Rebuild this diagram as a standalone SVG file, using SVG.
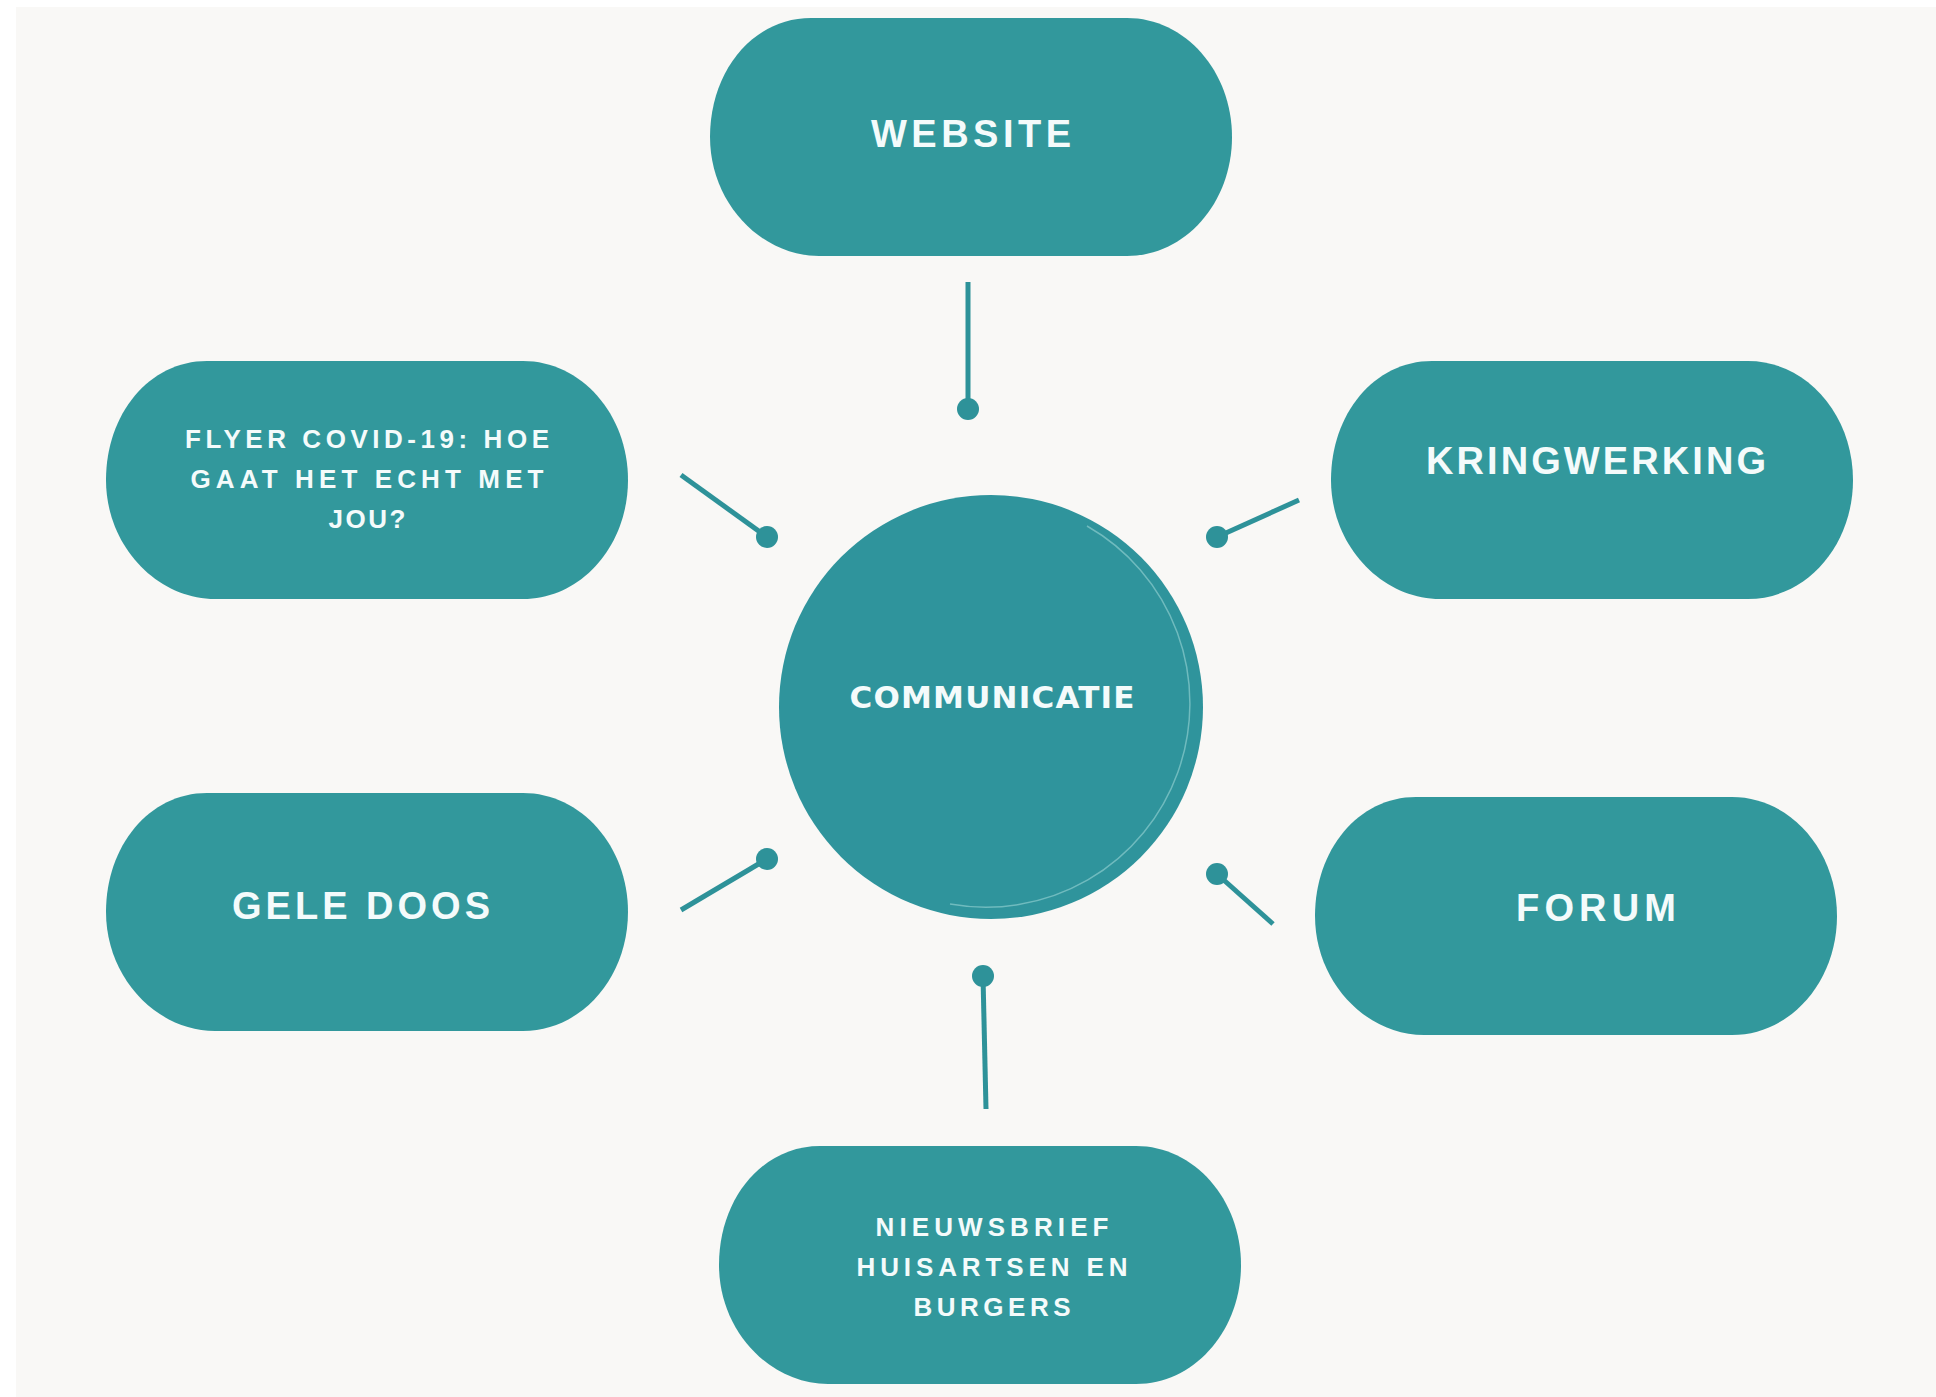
<svg xmlns="http://www.w3.org/2000/svg" xmlns:xlink="http://www.w3.org/1999/xlink" width="1936" height="1397" viewBox="0 0 1936 1397">
  <style>
    .pill { fill: #32989C; }
    .hub { fill: #2F949C; }
    .lbl { font-family: "Liberation Sans", Arial, sans-serif; font-weight: bold; fill: #F4FBFB; text-anchor: middle; }
    .big { font-size: 38px; }
    .small { font-size: 26px; }
    .hubtxt { font-family: "DejaVu Sans", "Liberation Sans", sans-serif; font-size: 31px; }
    .conn line { stroke: #2E9299; stroke-width: 5; stroke-linecap: butt; }
    .conn circle { fill: #2E9299; }
  </style>
  <defs>
    <path id="pillShape" d="M -160,-119 H 156 C 214,-119 261,-66 261,0 C 261,66 214,119 156,119 H -152 C -210,119 -261,66 -261,0 C -261,-66 -218,-119 -160,-119 Z"/>
  </defs>
  <rect x="0" y="0" width="1936" height="1397" fill="#FFFFFF"/>
  <rect x="16" y="7" width="1920" height="1390" fill="#F9F8F6"/>

  <g id="connectors" class="conn">
    <line x1="968" y1="282" x2="968" y2="409"/>
    <circle cx="968" cy="409" r="11"/>
    <line x1="681" y1="475" x2="767" y2="537"/>
    <circle cx="767" cy="537" r="11"/>
    <line x1="1299" y1="500" x2="1217" y2="537"/>
    <circle cx="1217" cy="537" r="11"/>
    <line x1="681" y1="910" x2="767" y2="859"/>
    <circle cx="767" cy="859" r="11"/>
    <line x1="1273" y1="924" x2="1217" y2="874"/>
    <circle cx="1217" cy="874" r="11"/>
    <line x1="986" y1="1109" x2="983" y2="976"/>
    <circle cx="983" cy="976" r="11"/>
  </g>

  <g id="node-communicatie">
    <circle class="hub" cx="991" cy="707" r="212"/>
    <path d="M 1087,526 A 204,204 0 0 1 950,904" fill="none" stroke="#7FC4C7" stroke-width="1.5" opacity="0.8"/>
    <text class="lbl hubtxt" x="992" y="708" textLength="285" lengthAdjust="spacing">COMMUNICATIE</text>
  </g>

  <g id="node-website">
    <use xlink:href="#pillShape" class="pill" transform="translate(971,137)"/>
    <text class="lbl big" x="971" y="147" textLength="200" lengthAdjust="spacing">WEBSITE</text>
  </g>

  <g id="node-flyer">
    <use xlink:href="#pillShape" class="pill" transform="translate(367,480)"/>
    <text class="lbl small" x="367" y="448" textLength="364" lengthAdjust="spacing">FLYER COVID-19: HOE</text>
    <text class="lbl small" x="367" y="488" textLength="353" lengthAdjust="spacing">GAAT HET ECHT MET</text>
    <text class="lbl small" x="367" y="528" textLength="77" lengthAdjust="spacing">JOU?</text>
  </g>

  <g id="node-kringwerking">
    <use xlink:href="#pillShape" class="pill" transform="translate(1592,480)"/>
    <text class="lbl big" x="1596" y="474" textLength="340" lengthAdjust="spacing">KRINGWERKING</text>
  </g>

  <g id="node-geledoos">
    <use xlink:href="#pillShape" class="pill" transform="translate(367,912)"/>
    <text class="lbl big" x="361" y="919" textLength="258" lengthAdjust="spacing">GELE DOOS</text>
  </g>

  <g id="node-forum">
    <use xlink:href="#pillShape" class="pill" transform="translate(1576,916)"/>
    <text class="lbl big" x="1596" y="921" textLength="160" lengthAdjust="spacing">FORUM</text>
  </g>

  <g id="node-nieuwsbrief">
    <use xlink:href="#pillShape" class="pill" transform="translate(980,1265)"/>
    <text class="lbl small" x="992" y="1236" textLength="233" lengthAdjust="spacing">NIEUWSBRIEF</text>
    <text class="lbl small" x="992" y="1276" textLength="271" lengthAdjust="spacing">HUISARTSEN EN</text>
    <text class="lbl small" x="992" y="1316" textLength="157" lengthAdjust="spacing">BURGERS</text>
  </g>
</svg>
